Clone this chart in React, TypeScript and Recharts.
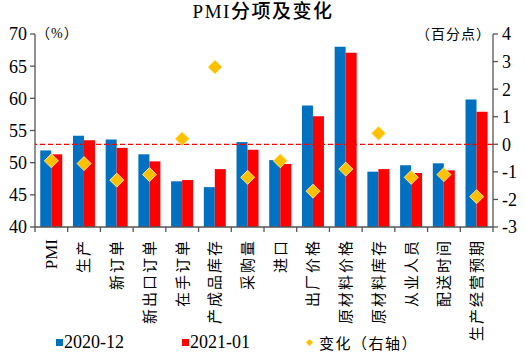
import React from 'react';
import {
  ComposedChart,
  Bar,
  Scatter,
  XAxis,
  YAxis,
  ReferenceLine,
  Legend
} from 'recharts';

// PMI 分项：2020-12 与 2021-01
const categories = [
  'PMI', '生产', '新订单', '新出口订单', '在手订单', '产成品库存', '采购量',
  '进口', '出厂价格', '原材料价格', '原材料库存', '从业人员', '配送时间', '生产经营预期'
];
const dec2020 = [51.9, 54.2, 53.6, 51.3, 47.1, 46.2, 53.2, 50.4, 58.9, 68.0, 48.6, 49.6, 49.9, 59.8];
const jan2021 = [51.3, 53.5, 52.3, 50.2, 47.3, 49.0, 52.0, 49.8, 57.2, 67.1, 49.0, 48.4, 48.8, 57.9];
const change = [-0.6, -0.7, -1.3, -1.1, 0.2, 2.8, -1.2, -0.6, -1.7, -0.9, 0.4, -1.2, -1.1, -1.9];
const leftTicks = [40, 45, 50, 55, 60, 65, 70];
const rightTicks = [-3, -2, -1, 0, 1, 2, 3, 4];

const data = categories.map((name, i) => ({
  name,
  d2012: dec2020[i],
  d2101: jan2021[i],
  change: change[i]
}));

const W = 526;
const H = 352;
const LEFT_W = 35;
const RIGHT_W = 33;
const STEP = (W - LEFT_W - RIGHT_W) / categories.length;

const BLUE = '#0070C0';
const RED = '#FF0000';
const GOLD = '#FFC000';
const AXIS = '#555';
const SERIF = '"Liberation Serif", "Times New Roman", "Noto Sans CJK SC", serif';

const XTick = (props: any) => {
  const { x, y, payload, index } = props;
  const latin = /^[A-Za-z]+$/.test(payload.value);
  const ty = y + 12;
  return (
    <g>
      <line x1={x - STEP / 2} x2={x - STEP / 2} y1={y} y2={y + 5} stroke={AXIS} strokeWidth={1.3} />
      {index === categories.length - 1 && (
        <line x1={x + STEP / 2} x2={x + STEP / 2} y1={y} y2={y + 5} stroke={AXIS} strokeWidth={1.3} />
      )}
      <text
        x={x}
        y={ty}
        transform={`rotate(-90, ${x}, ${ty})`}
        textAnchor="end"
        dy="0.36em"
        fontSize={latin ? 17 : 15}
        letterSpacing={latin ? 0 : 2}
        fontFamily={SERIF}
        fill="#000"
      >
        {payload.value}
      </text>
    </g>
  );
};

const Diamond = (props: any) => {
  const { cx, cy } = props;
  const r = 7;
  return (
    <path
      d={`M${cx},${cy - r}L${cx + r},${cy}L${cx},${cy + r}L${cx - r},${cy}Z`}
      fill={GOLD}
      stroke="#FFE38A"
      strokeWidth={1}
    />
  );
};

const legendItems = [
  { label: '2020-12', color: BLUE, kind: 'square', left: 56 },
  { label: '2021-01', color: RED, kind: 'square', left: 182 },
  { label: '变化（右轴）', color: GOLD, kind: 'diamond', left: 305 }
];

const renderLegend = () => (
  <div style={{ position: 'relative', width: W, height: 20, fontFamily: SERIF, color: '#000' }}>
    {legendItems.map((it) => (
      <div key={it.label} style={{ position: 'absolute', left: it.left, top: 0, display: 'flex', alignItems: 'center', height: 20 }}>
        {it.kind === 'square' ? (
          <span style={{ display: 'inline-block', width: 7, height: 7, background: it.color, marginRight: 1 }} />
        ) : (
          <span style={{ display: 'inline-block', width: 5, height: 5, background: it.color, transform: 'rotate(45deg)', marginLeft: 2, marginRight: 7 }} />
        )}
        <span style={{ fontSize: it.kind === 'square' ? 18 : 15, letterSpacing: it.kind === 'square' ? 0 : 1.5 }}>{it.label}</span>
      </div>
    ))}
  </div>
);

export default function App() {
  return (
    <div style={{ position: 'absolute', left: 0, top: 0, width: W, height: H, background: '#fff' }}>
      <div
        style={{
          position: 'absolute',
          left: 0,
          top: 0,
          width: W,
          textAlign: 'center',
          fontFamily: SERIF,
          fontSize: 19,
          letterSpacing: 1.5,
          lineHeight: '24px',
          fontWeight: 500,
          color: '#000'
        }}
      >
        PMI分项及变化
      </div>
      <ComposedChart
        width={W}
        height={H}
        data={data}
        margin={{ top: 34, right: 0, left: 0, bottom: 0 }}
        barCategoryGap="16%"
        barGap={0}
      >
        <XAxis
          dataKey="name"
          interval={0}
          height={H - 227}
          tickSize={0}
          tickMargin={0}
          tickLine={false}
          stroke={AXIS}
          strokeWidth={1.3}
          tick={<XTick />}
        />
        <YAxis
          yAxisId="left"
          width={LEFT_W}
          domain={[40, 70]}
          ticks={leftTicks}
          interval={0}
          tickSize={5}
          tickMargin={3}
          stroke={AXIS}
          strokeWidth={1.3}
          tick={{ fill: '#000', fontSize: 18, fontFamily: SERIF }}
          label={{
            content: (p: any) => (
              <text x={p.viewBox.x + p.viewBox.width + 1} y={38} fontSize={14} letterSpacing={1} fontFamily={SERIF} fill="#000">
                （%）
              </text>
            )
          }}
        />
        <YAxis
          yAxisId="right"
          orientation="right"
          width={RIGHT_W}
          domain={[-3, 4]}
          ticks={rightTicks}
          interval={0}
          tickSize={5}
          tickMargin={4}
          stroke={AXIS}
          strokeWidth={1.3}
          tick={{ fill: '#000', fontSize: 18, fontFamily: SERIF }}
          label={{
            content: (p: any) => (
              <text x={p.viewBox.x - 2} y={39} fontSize={14} letterSpacing={1} textAnchor="end" fontFamily={SERIF} fill="#000">
                （百分点）
              </text>
            )
          }}
        />
        <Bar yAxisId="left" dataKey="d2012" name="2020-12" fill={BLUE} isAnimationActive={false} />
        <Bar yAxisId="left" dataKey="d2101" name="2021-01" fill={RED} isAnimationActive={false} />
        <ReferenceLine yAxisId="right" y={0} stroke={RED} strokeDasharray="5 3" strokeWidth={1.2} />
        <Scatter yAxisId="right" dataKey="change" name="变化（右轴）" shape={<Diamond />} isAnimationActive={false} />
        <Legend
          layout="horizontal"
          verticalAlign="middle"
          align="center"
          wrapperStyle={{ position: 'absolute', left: 0, top: 332, width: W, height: 20 }}
          content={renderLegend}
        />
      </ComposedChart>
    </div>
  );
}
